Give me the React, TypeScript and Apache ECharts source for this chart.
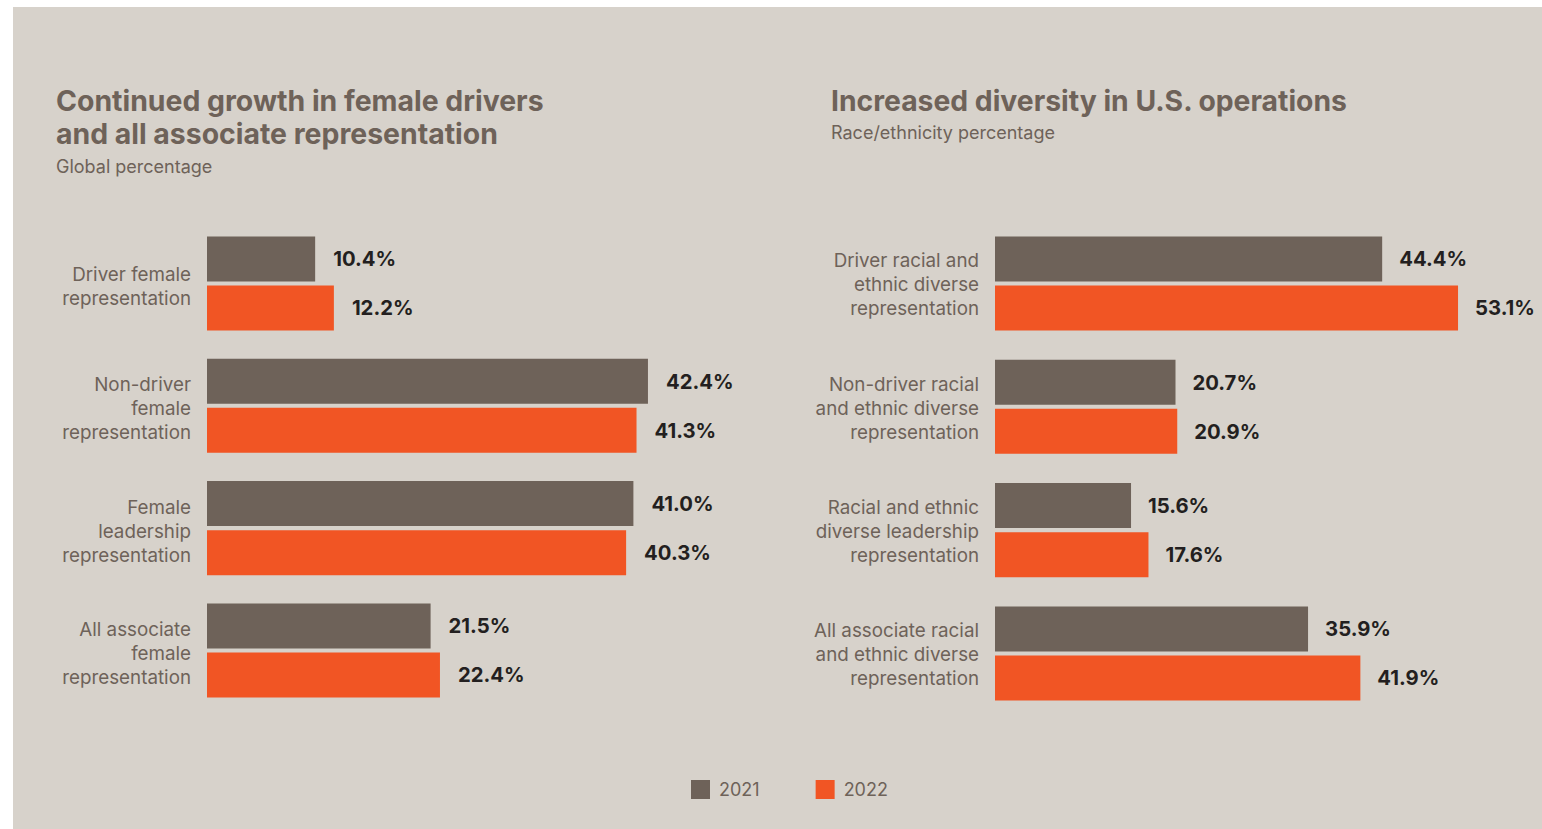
import React, { useEffect, useRef } from "react";
import * as echarts from "echarts";

// Left panel: global female representation
const femaleCategories = [
  "Driver female\nrepresentation",
  "Non-driver\nfemale\nrepresentation",
  "Female\nleadership\nrepresentation",
  "All associate\nfemale\nrepresentation",
];
const female2021 = [10.4, 42.4, 41.0, 21.5];
const female2022 = [12.2, 41.3, 40.3, 22.4];

// Right panel: U.S. race/ethnicity representation
const diversityCategories = [
  "Driver racial and\nethnic diverse\nrepresentation",
  "Non-driver racial\nand ethnic diverse\nrepresentation",
  "Racial and ethnic\ndiverse leadership\nrepresentation",
  "All associate racial\nand ethnic diverse\nrepresentation",
];
const diversity2021 = [44.4, 20.7, 15.6, 35.9];
const diversity2022 = [53.1, 20.9, 17.6, 41.9];

const years = ["2021", "2022"];

const GRAY = "#6e6259";
const ORANGE = "#f15524";
const BG = "#d7d2cb";
const INK = "#231f20";
const FONT = "Inter, 'Noto Sans', sans-serif";

function barSeries(name: string, color: string, data: number[], idx: number, dist: number) {
  return {
    type: "bar",
    name,
    xAxisIndex: idx,
    yAxisIndex: idx,
    data,
    barWidth: 45,
    barGap: "9%",
    itemStyle: { color },
    label: {
      show: true,
      position: "right",
      distance: dist,
      formatter: (p: any) => `${Number(p.value).toFixed(1)}%`,
      color: INK,
      fontFamily: FONT,
      fontWeight: "bold",
      fontSize: 20.3,
    },
  };
}

// Category names sit slightly below the centre of their bar pair:
// every line carries the same top padding inside its line box.
function categoryLabel(value: string) {
  return value
    .split("\n")
    .map((line) => `{c|${line}}`)
    .join("\n");
}

export default function App() {
  const ref = useRef<HTMLDivElement>(null);

  useEffect(() => {
    if (!ref.current) return;
    const chart = echarts.init(ref.current, undefined, { renderer: "svg" });

    const catAxis = (data: string[], idx: number, drop: number) => ({
      type: "category",
      gridIndex: idx,
      data,
      inverse: true,
      axisLine: { show: false },
      axisTick: { show: false },
      splitLine: { show: false },
      axisLabel: {
        margin: 16,
        color: GRAY,
        fontFamily: FONT,
        fontSize: 18.8,
        lineHeight: 24,
        align: "right",
        formatter: categoryLabel,
        rich: {
          c: {
            color: GRAY,
            fontFamily: FONT,
            fontSize: 18.8,
            lineHeight: 24,
            align: "right",
            padding: [drop, 0, 0, 0],
          },
        },
      },
    });

    chart.setOption({
      animation: false,
      backgroundColor: "#ffffff",
      textStyle: { fontFamily: FONT },
      graphic: [
        {
          type: "rect",
          silent: true,
          z: -10,
          shape: { x: 13, y: 7, width: 1529, height: 822 },
          style: { fill: BG },
        },
      ],
      title: [
        {
          text: "Continued growth in female drivers\nand all associate representation",
          subtext: "Global percentage",
          left: 56,
          top: 84,
          padding: 0,
          itemGap: 5,
          textStyle: { color: GRAY, fontFamily: FONT, fontWeight: "bold", fontSize: 28.4, lineHeight: 33 },
          subtextStyle: { color: GRAY, fontFamily: FONT, fontSize: 18, lineHeight: 22 },
        },
        {
          text: "Increased diversity in U.S. operations",
          subtext: "Race/ethnicity percentage",
          left: 831,
          top: 84,
          padding: 0,
          itemGap: 4,
          textStyle: { color: GRAY, fontFamily: FONT, fontWeight: "bold", fontSize: 28.3, lineHeight: 33 },
          subtextStyle: { color: GRAY, fontFamily: FONT, fontSize: 18, lineHeight: 22 },
        },
      ],
      legend: {
        data: years,
        left: 691,
        top: 780,
        padding: 0,
        icon: "rect",
        itemWidth: 19,
        itemHeight: 19,
        itemGap: 56,
        textStyle: { color: GRAY, fontFamily: FONT, fontSize: 18, padding: [0, 0, 0, 4] },
      },
      grid: [
        { left: 207, top: 222.3, width: 520, height: 489.3 },
        { left: 995, top: 221.8, width: 523.2, height: 493.3 },
      ],
      xAxis: [
        { type: "value", gridIndex: 0, min: 0, max: 50, show: false },
        { type: "value", gridIndex: 1, min: 0, max: 60, show: false },
      ],
      yAxis: [catAxis(femaleCategories, 0, 6), catAxis(diversityCategories, 1, 3)],
      series: [
        barSeries(years[0], GRAY, female2021, 0, 18),
        barSeries(years[1], ORANGE, female2022, 0, 18),
        barSeries(years[0], GRAY, diversity2021, 1, 17),
        barSeries(years[1], ORANGE, diversity2022, 1, 17),
      ],
    });

    return () => chart.dispose();
  }, []);

  return (
    <div
      ref={ref}
      style={{ position: "fixed", left: 0, top: 0, width: 1542, height: 829 }}
    />
  );
}
